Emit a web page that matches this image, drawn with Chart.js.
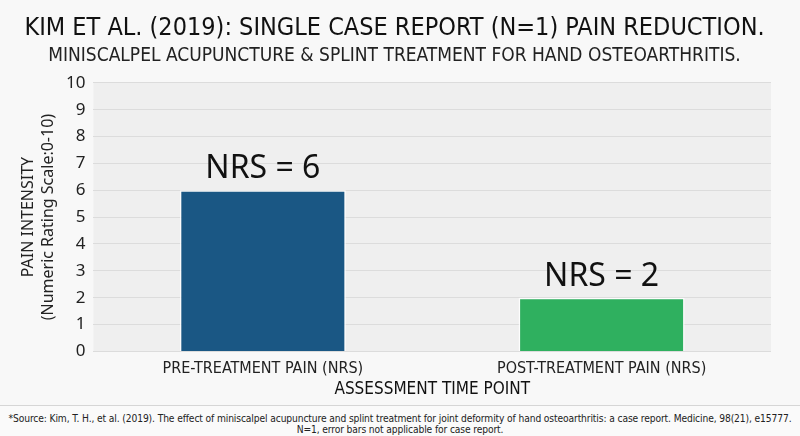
<!DOCTYPE html>
<html>
<head>
<meta charset="utf-8">
<script src="https://cdn.jsdelivr.net/npm/chart.js@4.4.1/dist/chart.umd.min.js"></script>
<style>
  html, body { margin: 0; padding: 0; background: #f8f8f8; }
  #wrap { width: 800px; height: 405px; position: relative; }
  #footer {
    width: 800px; height: 31px; border-top: 1px solid #d6d6d6;
    font-family: "DejaVu Sans Condensed", "Liberation Sans Narrow", sans-serif;
    font-size: 10.2px; line-height: 11px; color: #222; text-align: center;
    padding-top: 7px; box-sizing: border-box; background: #fafafa;
    white-space: nowrap; letter-spacing: -0.12px;
  }
</style>
</head>
<body>
<div id="wrap"><canvas id="chart"></canvas></div>
<div id="footer">*Source: Kim, T. H., et al. (2019). The effect of miniscalpel acupuncture and splint treatment for joint deformity of hand osteoarthritis: a case report. Medicine, 98(21), e15777.<br>N=1, error bars not applicable for case report.</div>
<script>
const categories = ['PRE-TREATMENT PAIN (NRS)', 'POST-TREATMENT PAIN (NRS)'];
const painScores = [6, 2];
const barColors = ['#1a5784', '#2fb05f'];
const yTicks = [0, 1, 2, 3, 4, 5, 6, 7, 8, 9, 10];

const narrow = '"DejaVu Sans Condensed", "Liberation Sans Narrow", sans-serif';
const plain = '"Noto Sans", "Open Sans", sans-serif';

// grey plot background behind the grid
const plotBg = {
    id: 'plotBg',
    beforeDraw(chart) {
        const { ctx, chartArea: a } = chart;
        ctx.save();
        ctx.fillStyle = '#efefef';
        ctx.fillRect(a.left, a.top, a.right - a.left, a.bottom - a.top);
        ctx.restore();
    }
};

// "NRS = x" above each bar
const barLabels = {
    id: 'barLabels',
    afterDatasetsDraw(chart) {
        const { ctx } = chart;
        const meta = chart.getDatasetMeta(0);
        ctx.save();
        ctx.font = '32px ' + plain;
        ctx.fillStyle = '#111';
        ctx.textAlign = 'center';
        ctx.textBaseline = 'bottom';
        meta.data.forEach((bar, i) => {
            ctx.fillText('NRS = ' + painScores[i], bar.x, bar.y - 5);
        });
        ctx.restore();
    }
};

const chartCtx = document.getElementById('chart').getContext('2d');
new Chart(chartCtx, {
    type: 'bar',
    data: {
        labels: categories,
        datasets: [{
            data: painScores,
            backgroundColor: barColors,
            borderColor: 'rgba(255,255,255,0.85)',
            borderWidth: 1.5,
            categoryPercentage: 1,
            barPercentage: 0.49
        }]
    },
    options: {
        responsive: true,
        maintainAspectRatio: false,
        animation: false,
        layout: { padding: { left: 18, right: 29, top: 11, bottom: 5 } },
        plugins: {
            legend: { display: false },
            tooltip: { enabled: false },
            title: {
                display: true,
                text: 'KIM ET AL. (2019): SINGLE CASE REPORT (N=1) PAIN REDUCTION.',
                color: '#111',
                font: { family: narrow, size: 25, weight: 'normal' },
                padding: { top: 2, bottom: 0 }
            },
            subtitle: {
                display: true,
                text: 'MINISCALPEL ACUPUNCTURE & SPLINT TREATMENT FOR HAND OSTEOARTHRITIS.',
                color: '#222',
                font: { family: narrow, size: 19, weight: 'normal' },
                padding: { top: 2, bottom: 15 }
            }
        },
        scales: {
            x: {
                grid: { display: false },
                border: { display: false },
                ticks: { color: '#222', font: { family: narrow, size: 16 }, padding: 0 },
                title: {
                    display: true,
                    text: 'ASSESSMENT TIME POINT',
                    color: '#111',
                    font: { family: narrow, size: 17 },
                    padding: { top: 1, bottom: 0 }
                }
            },
            y: {
                min: 0,
                max: 10,
                afterBuildTicks(axis) { axis.ticks = yTicks.map(v => ({ value: v })); },
                grid: { color: '#dcdcdc', drawTicks: false, lineWidth: 1 },
                border: { display: false },
                ticks: { color: '#222', font: { family: plain, size: 17 }, padding: 8 },
                title: {
                    display: true,
                    text: ['PAIN INTENSITY', '(Numeric Rating Scale:0-10)'],
                    color: '#222',
                    font: { family: plain, size: 16, lineHeight: 1.25 },
                    padding: { top: 0, bottom: 0 }
                }
            }
        }
    },
    plugins: [plotBg, barLabels]
});
</script>
</body>
</html>
